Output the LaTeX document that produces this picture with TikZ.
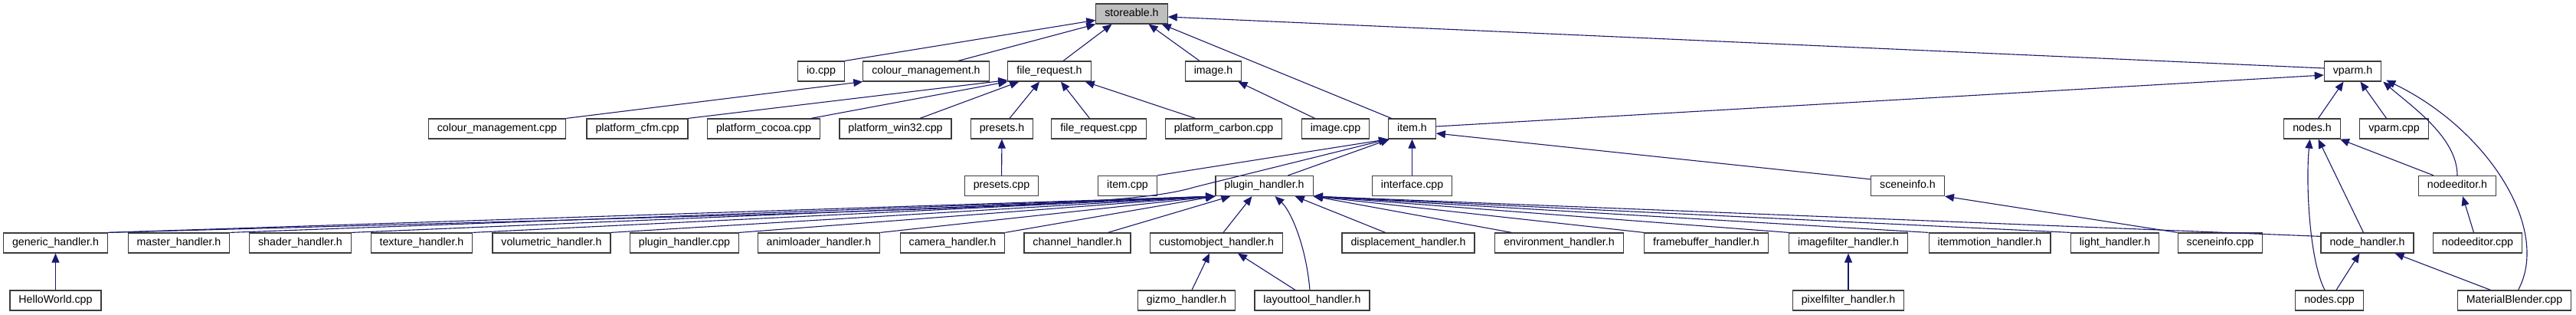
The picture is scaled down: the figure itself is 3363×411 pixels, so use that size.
\documentclass[tikz,border=0pt]{standalone}
\usepackage{fontspec}
\setmainfont{Liberation Sans}
\usepackage{xcolor}
\usepackage{tikz}
\usetikzlibrary{
arrows.meta
}
\definecolor{edgeblue}{HTML}{191970}
\definecolor{boxline}{HTML}{3C3C3C}
\definecolor{rootfill}{HTML}{BFBFBF}

\tikzset{
filebox/.style={
draw=boxline,
line width=1.2pt,
fill=white,
minimum height=26pt,
inner xsep=11.5pt,
inner ysep=0pt,
text height=10pt,
text depth=3pt
},
rootbox/.style={
filebox,
fill=rootfill
},
dep/.style={
draw=edgeblue,
line width=1.1pt,
-{Triangle[length=12pt,width=10pt]}
}
}

\begin{document}
\begin{tikzpicture}[
x=1pt,
y=-1pt,
font=\fontsize{14.2}{17}\selectfont
]

\useasboundingbox (0,0) rectangle (3363,411);

\node[
rootbox
]
(storeable) at (1477.5,18)
{storeable.h};

\node[
filebox
]
(io) at (1072,93)
{io.cpp};

\node[
filebox
]
(colmgmth) at (1209,93)
{colour\_management.h};

\node[
filebox
]
(filereqh) at (1370,93)
{file\_request.h};

\node[
filebox
]
(imageh) at (1584,93)
{image.h};

\node[
filebox
]
(vparmh) at (3071.5,93)
{vparm.h};

\node[
filebox
]
(colmgmtcpp) at (649,168)
{colour\_management.cpp};

\node[
filebox
]
(cfm) at (832,168)
{platform\_cfm.cpp};

\node[
filebox
]
(cocoa) at (997,168)
{platform\_cocoa.cpp};

\node[
filebox
]
(win32) at (1169,168)
{platform\_win32.cpp};

\node[
filebox
]
(presetsh) at (1308,168)
{presets.h};

\node[
filebox
]
(filereqcpp) at (1434.5,168)
{file\_request.cpp};

\node[
filebox
]
(carbon) at (1597.5,168)
{platform\_carbon.cpp};

\node[
filebox
]
(imagecpp) at (1743.5,168)
{image.cpp};

\node[
filebox
]
(itemh) at (1843.5,168)
{item.h};

\node[
filebox
]
(nodesh) at (3018.5,168)
{nodes.h};

\node[
filebox
]
(vparmcpp) at (3125.5,168)
{vparm.cpp};

\node[
filebox
]
(presetscpp) at (1307.5,242.5)
{presets.cpp};

\node[
filebox
]
(itemcpp) at (1472,242.5)
{item.cpp};

\node[
filebox
]
(pluginh) at (1650.5,242.5)
{plugin\_handler.h};

\node[
filebox
]
(interface) at (1843.5,242.5)
{interface.cpp};

\node[
filebox
]
(sceneinfoh) at (2490.5,242.5)
{sceneinfo.h};

\node[
filebox
]
(nodeeditorh) at (3208,242.5)
{nodeeditor.h};

\node[
filebox
]
(generic) at (72.5,317)
{generic\_handler.h};

\node[
filebox
]
(master) at (233.5,317)
{master\_handler.h};

\node[
filebox
]
(shader) at (392,317)
{shader\_handler.h};

\node[
filebox
]
(texture) at (550.5,317)
{texture\_handler.h};

\node[
filebox
]
(volumetric) at (720,317)
{volumetric\_handler.h};

\node[
filebox
]
(plugincpp) at (893.5,317)
{plugin\_handler.cpp};

\node[
filebox
]
(animloader) at (1069,317)
{animloader\_handler.h};

\node[
filebox
]
(camera) at (1243.5,317)
{camera\_handler.h};

\node[
filebox
]
(channel) at (1406.5,317)
{channel\_handler.h};

\node[
filebox
]
(customobject) at (1588,317)
{customobject\_handler.h};

\node[
filebox
]
(displacement) at (1838.5,317)
{displacement\_handler.h};

\node[
filebox
]
(environment) at (2035.5,317)
{environment\_handler.h};

\node[
filebox
]
(framebuffer) at (2227.5,317)
{framebuffer\_handler.h};

\node[
filebox
]
(imagefilter) at (2413,317)
{imagefilter\_handler.h};

\node[
filebox
]
(itemmotion) at (2597.5,317)
{itemmotion\_handler.h};

\node[
filebox
]
(light) at (2761,317)
{light\_handler.h};

\node[
filebox
]
(sceneinfocpp) at (2898.5,317)
{sceneinfo.cpp};

\node[
filebox
]
(nodehandler) at (3090.5,317)
{node\_handler.h};

\node[
filebox
]
(nodeeditorcpp) at (3234.5,317)
{nodeeditor.cpp};

\node[
filebox
]
(helloworld) at (72.5,392)
{HelloWorld.cpp};

\node[
filebox
]
(gizmo) at (1549,392)
{gizmo\_handler.h};

\node[
filebox
]
(layouttool) at (1713,392)
{layouttool\_handler.h};

\node[
filebox
]
(pixelfilter) at (2413,392)
{pixelfilter\_handler.h};

\node[
filebox
]
(nodescpp) at (3041,392)
{nodes.cpp};

\node[
filebox
]
(materialblender) at (3282.5,392)
{MaterialBlender.cpp};

\draw[dep] (io.north east) -- (storeable.190);
\draw[dep] ([xshift=42pt]colmgmth.north) -- (storeable.south west);
\draw[dep] ([xshift=18pt]filereqh.north) -- ([xshift=-26pt]storeable.south);
\draw[dep] ([xshift=-18pt]imageh.north) -- ([xshift=22pt]storeable.south);
\draw[dep] ([xshift=-27pt]itemh.north) -- ([xshift=-8pt]storeable.south east);
\draw[dep] ([yshift=4pt]vparmh.west) -- ([yshift=-4pt]storeable.east);
\draw[dep] ([yshift=3pt]itemh.east) -- ([yshift=-5pt]vparmh.west);
\draw[dep] ([yshift=-5pt]sceneinfoh.north west) -- ([yshift=-6pt]itemh.east);

\draw[dep] (colmgmtcpp.north east) -- (colmgmth.south west);
\draw[dep] (cfm.north east) -- ([yshift=2pt]filereqh.south west);
\draw[dep] ([xshift=-12pt]cocoa.north east) -- (filereqh.south west);
\draw[dep] ([xshift=32pt]win32.north) -- ([xshift=15pt]filereqh.south west);
\draw[dep] ([xshift=10pt]presetsh.north) -- ([xshift=-13pt]filereqh.south);
\draw[dep] ([xshift=-12pt]filereqcpp.north) -- ([xshift=15pt]filereqh.south);
\draw[dep] ([xshift=-37pt]carbon.north) -- ([xshift=-8pt]filereqh.south east);
\draw[dep] ([xshift=-27pt]imagecpp.north) -- ([xshift=-5pt]imageh.south east);
\draw[dep] (presetscpp) -- (presetsh);

\draw[dep] (interface) -- (itemh);
\draw[dep] (itemcpp.north east) -- (itemh.south west);
\draw[dep] ([xshift=31pt]pluginh.north) -- ([xshift=2pt]itemh.south west);
\draw[dep] (generic.north east) .. controls (1300,272) and (1480,268) .. (1560,244) -- (itemh.south west);

\foreach \src in {generic,master,shader,texture,volumetric,plugincpp,animloader,camera}
\draw[dep] (\src.north east) -- (pluginh.south west);
\draw[dep] ([xshift=40pt]channel.north) -- ([xshift=20pt]pluginh.south west);
\draw[dep] ([xshift=9pt]customobject.north) -- ([xshift=-16pt]pluginh.south);
\draw[dep] ([xshift=-3pt]layouttool.north) .. controls (1705,320) and (1685,275) .. ([xshift=14pt]pluginh.south);
\draw[dep] ([xshift=-30pt]displacement.north) -- ([xshift=-24pt]pluginh.south east);
\draw[dep] ([xshift=-62pt]environment.north) -- (pluginh.south east);
\foreach \src in {framebuffer,imagefilter,itemmotion,light}
\draw[dep] (\src.north west) -- (pluginh.south east);
\draw[dep] ([yshift=-5pt]nodehandler.north west) -- (pluginh.south east);

\draw[dep] (helloworld) -- (generic);
\draw[dep] ([xshift=7pt]gizmo.north) -- ([xshift=-9pt]customobject.south);
\draw[dep] ([xshift=-22pt]layouttool.north) -- ([xshift=28pt]customobject.south);
\draw[dep] (pixelfilter) -- (imagefilter);
\draw[dep] (sceneinfocpp.north west) -- (sceneinfoh.south east);

\draw[dep] ([xshift=8pt]nodesh.north) -- ([xshift=-12pt]vparmh.south);
\draw[dep] ([xshift=-10pt]vparmcpp.north) -- ([xshift=10pt]vparmh.south);
\draw[dep] (nodeeditorh.north) .. controls (3208,180) and (3150,140) .. ([xshift=2pt]vparmh.south east);
\draw[dep] ([xshift=5pt]materialblender.north) .. controls (3330,300) and (3250,170) .. ([xshift=6pt,yshift=2pt]vparmh.south east);
\draw[dep] ([xshift=-31pt]nodeeditorh.north) -- ([xshift=-1pt]nodesh.south east);
\draw[dep] ([xshift=-5pt]nodehandler.north) -- ([xshift=8pt]nodesh.south);
\draw[dep] ([xshift=-6pt]nodescpp.north) .. controls (3015,340) and (3010,240) .. ([xshift=-3pt]nodesh.south);
\draw[dep] ([xshift=9pt]nodescpp.north) -- ([xshift=-10pt]nodehandler.south);
\draw[dep] ([xshift=-31pt]materialblender.north) -- ([xshift=36pt]nodehandler.south);
\draw[dep] ([xshift=-5pt]nodeeditorcpp.north) -- ([xshift=7pt]nodeeditorh.south);

\end{tikzpicture}
\end{document}
